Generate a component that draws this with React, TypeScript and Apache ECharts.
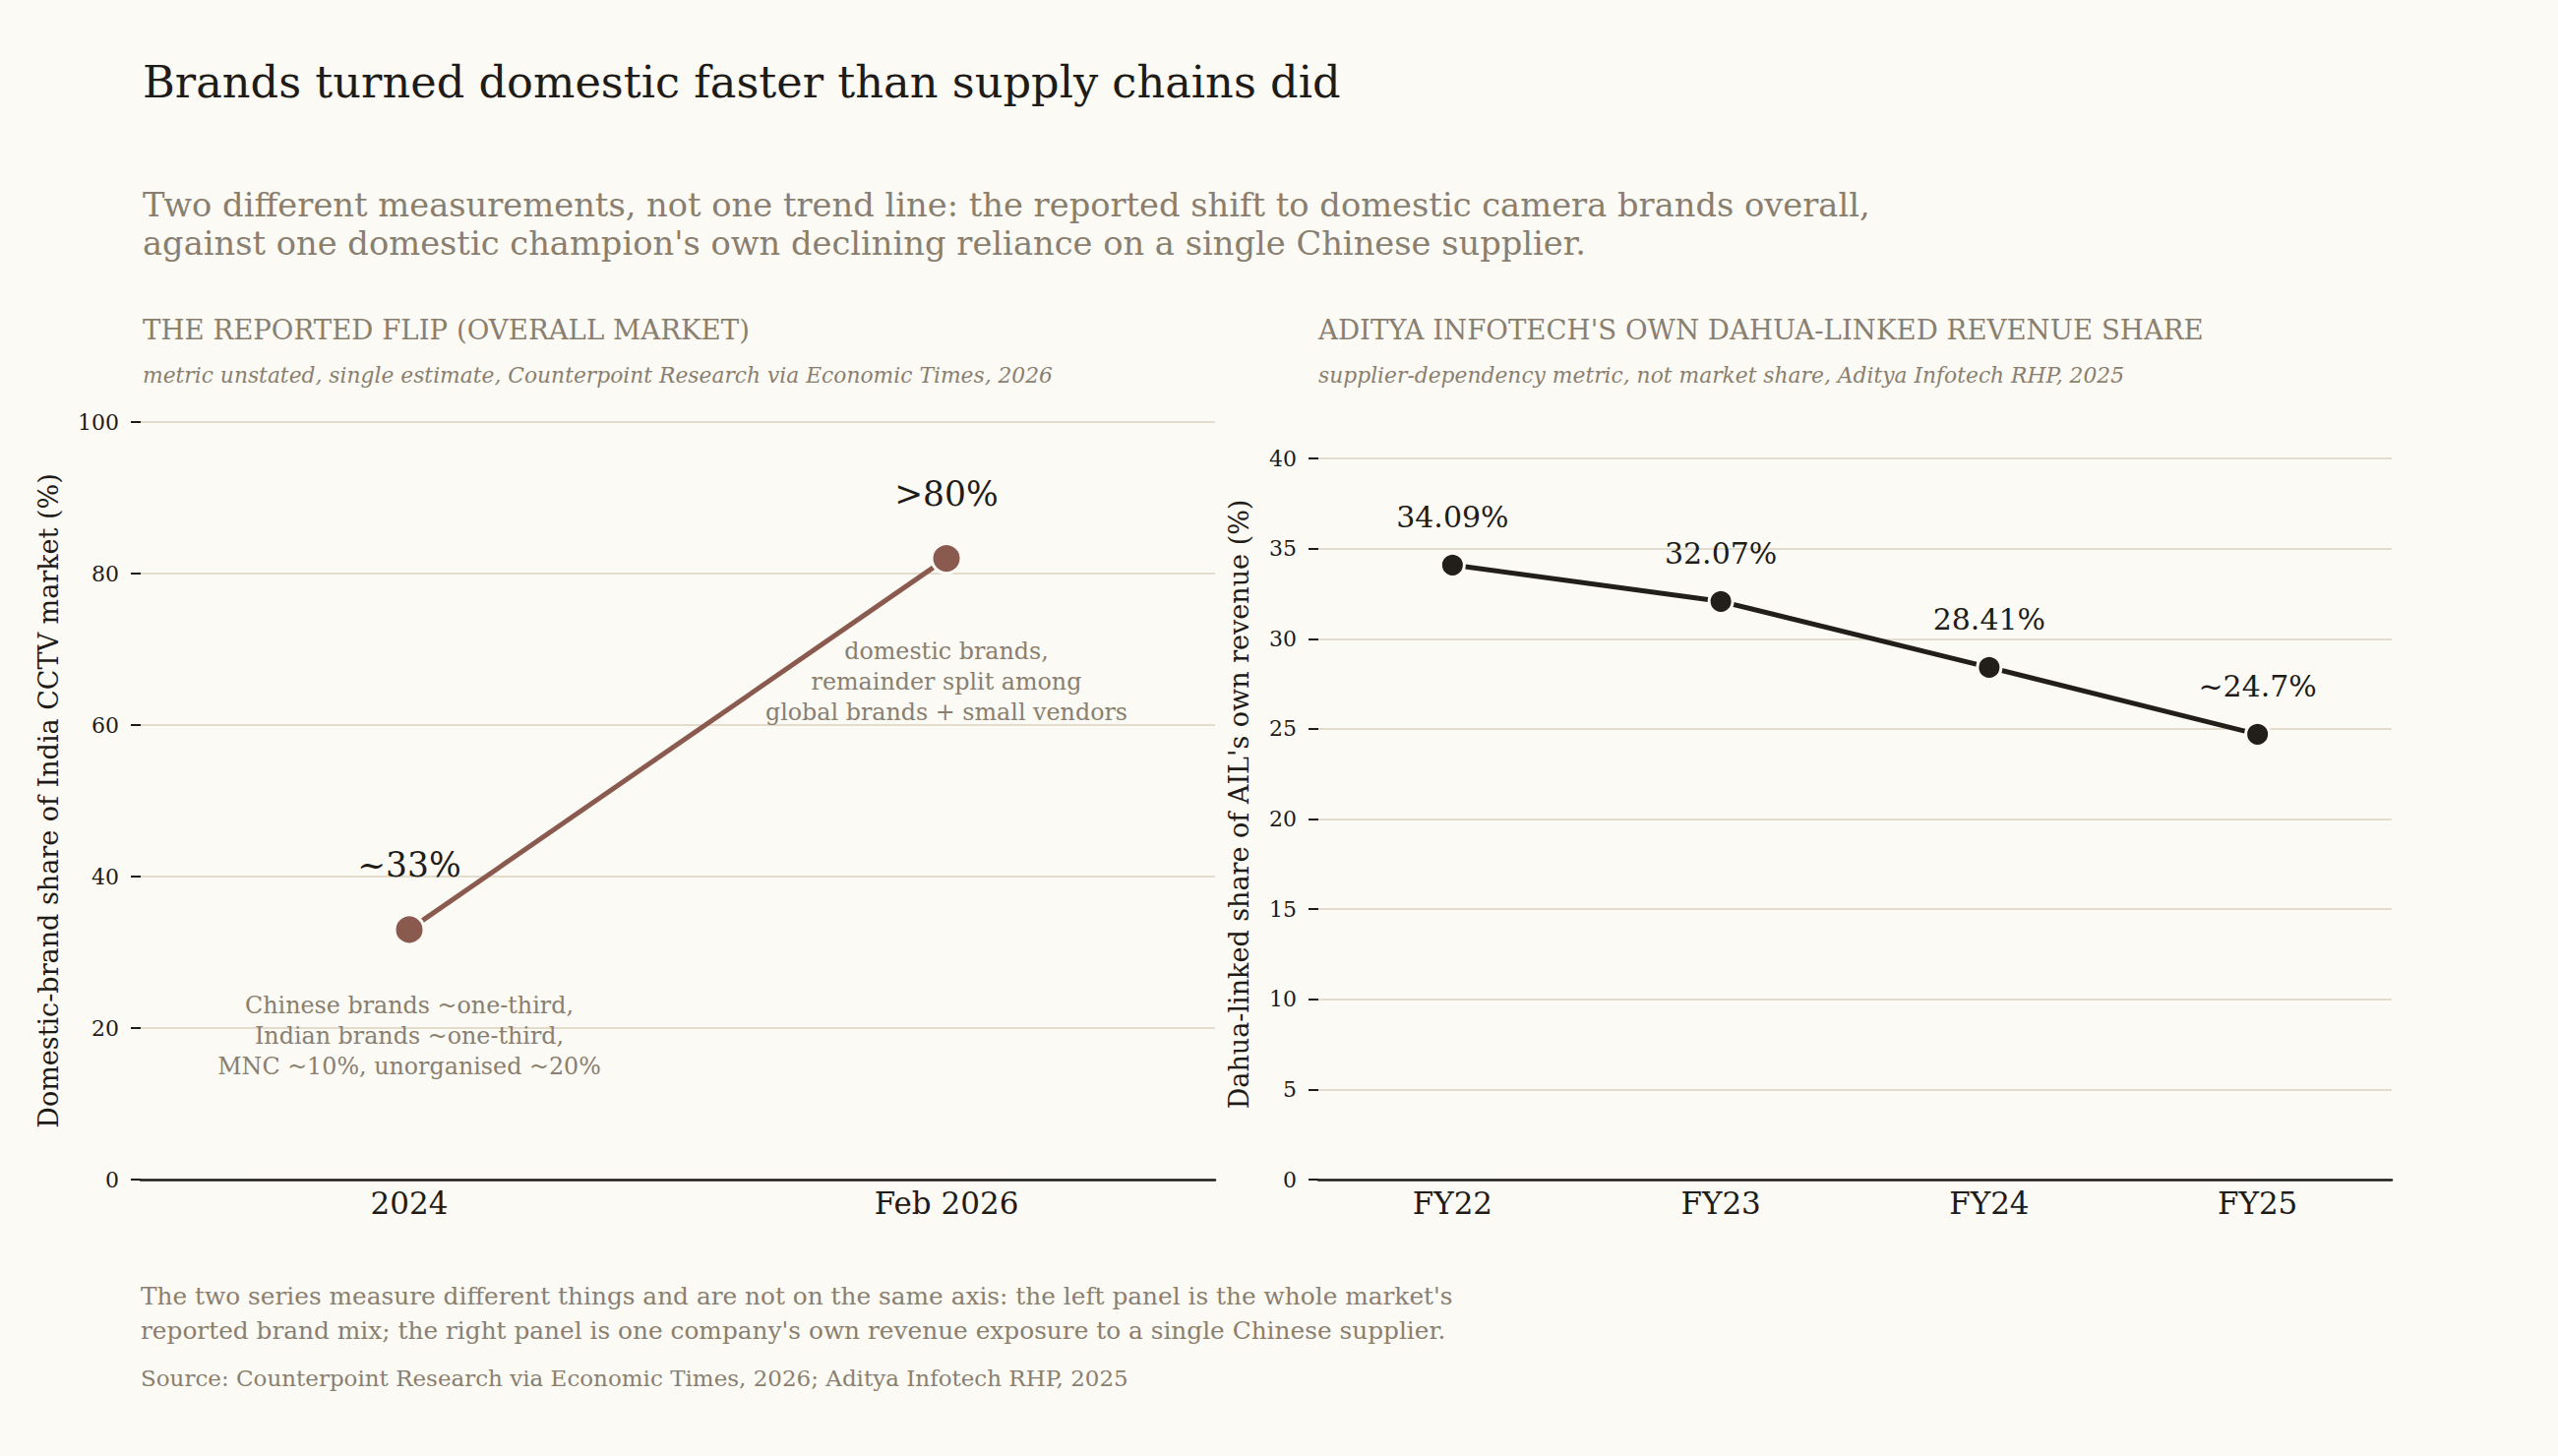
import React, { useEffect, useRef } from "react";
import * as echarts from "echarts";

const leftCategories = ["2024", "Feb 2026"];
const leftValues = [33, 82];
const leftLabels = ["~33%", ">80%"];
const leftNotes = [
  { category: "2024", value: 19, text: "Chinese brands ~one-third,\nIndian brands ~one-third,\nMNC ~10%, unorganised ~20%" },
  { category: "Feb 2026", value: 65.7, text: "domestic brands,\nremainder split among\nglobal brands + small vendors" },
];

const rightCategories = ["FY22", "FY23", "FY24", "FY25"];
const rightValues = [34.09, 32.07, 28.41, 24.7];
const rightLabels = ["34.09%", "32.07%", "28.41%", "~24.7%"];

const titleText = "Brands turned domestic faster than supply chains did";
const subtitleLines = [
  "Two different measurements, not one trend line: the reported shift to domestic camera brands overall,",
  "against one domestic champion's own declining reliance on a single Chinese supplier.",
];
const leftHeader = "THE REPORTED FLIP (OVERALL MARKET)";
const leftSub = "metric unstated, single estimate, Counterpoint Research via Economic Times, 2026";
const rightHeader = "ADITYA INFOTECH'S OWN DAHUA-LINKED REVENUE SHARE";
const rightSub = "supplier-dependency metric, not market share, Aditya Infotech RHP, 2025";
const footerLines = [
  "The two series measure different things and are not on the same axis: the left panel is the whole market's",
  "reported brand mix; the right panel is one company's own revenue exposure to a single Chinese supplier.",
];
const sourceText = "Source: Counterpoint Research via Economic Times, 2026; Aditya Infotech RHP, 2025";

const BG = "#FBFAF5";
const INK = "#1F1C18";
const MUTED = "#8A7F6F";
const GRID = "#E3DBCC";
const BROWN = "#8B5A4F";
const SERIF = "'DejaVu Serif', serif";

function txt(x: number, baseline: number, text: string, size: number, color: string, extra: any = {}) {
  return {
    type: "text",
    x,
    y: baseline + size * 0.22,
    silent: true,
    style: {
      text,
      fontFamily: SERIF,
      fontSize: size,
      fill: color,
      textAlign: "left",
      textVerticalAlign: "bottom",
      ...extra,
    },
  };
}

export default function App() {
  const ref = useRef<HTMLDivElement>(null);
  useEffect(() => {
    document.body.style.margin = "0";
    document.body.style.background = BG;
    const chart = echarts.init(ref.current!, undefined, { renderer: "svg" });

    const yAxisCommon = {
      type: "value",
      axisLine: { show: false },
      axisTick: { show: true, length: 10, lineStyle: { color: INK, width: 2 } },
      axisLabel: { color: INK, fontFamily: SERIF, fontSize: 22, margin: 22 },
      splitLine: { show: true, lineStyle: { color: GRID, width: 2 } },
      nameLocation: "middle",
      nameTextStyle: { color: INK, fontFamily: SERIF, fontSize: 27 },
    };
    const xAxisCommon = {
      type: "category",
      boundaryGap: true,
      axisLine: { show: true, lineStyle: { color: INK, width: 2.5 } },
      axisTick: { show: false },
      axisLabel: { color: INK, fontFamily: SERIF, fontSize: 31, margin: 8 },
      splitLine: { show: false },
    };

    const option: any = {
      animation: false,
      backgroundColor: BG,
      grid: [
        { left: 143, right: 2600 - 1235, top: 429, bottom: 281 },
        { left: 1340, right: 2600 - 2431, top: 466, bottom: 281 },
      ],
      xAxis: [
        { ...xAxisCommon, gridIndex: 0, data: leftCategories },
        { ...xAxisCommon, gridIndex: 1, data: rightCategories },
      ],
      yAxis: [
        {
          ...yAxisCommon,
          gridIndex: 0,
          min: 0,
          max: 100,
          interval: 20,
          name: "Domestic-brand share of India CCTV market (%)",
          nameGap: 80,
        },
        {
          ...yAxisCommon,
          gridIndex: 1,
          min: 0,
          max: 40,
          interval: 5,
          name: "Dahua-linked share of AIL's own revenue (%)",
          nameGap: 67,
          nameTextStyle: { ...yAxisCommon.nameTextStyle, padding: [0, 0, 0, 30] },
        },
      ],
      series: [
        {
          type: "line",
          xAxisIndex: 0,
          yAxisIndex: 0,
          data: leftValues,
          symbol: "circle",
          symbolSize: 30,
          lineStyle: { color: BROWN, width: 5 },
          itemStyle: { color: BROWN, borderColor: BG, borderWidth: 3 },
          label: {
            show: true,
            position: "top",
            distance: 32,
            color: INK,
            fontFamily: SERIF,
            fontSize: 34.5,
            formatter: (p: any) => leftLabels[p.dataIndex],
          },
          markPoint: {
            symbol: "circle",
            symbolSize: 1,
            itemStyle: { color: "rgba(0,0,0,0)" },
            label: {
              show: true,
              position: "inside",
              color: MUTED,
              fontFamily: SERIF,
              fontSize: 23.8,
              lineHeight: 31,
              align: "center",
              formatter: (p: any) => leftNotes[p.dataIndex].text,
            },
            data: leftNotes.map((n) => ({ coord: [n.category, n.value] })),
          },
          z: 3,
        },
        {
          type: "line",
          xAxisIndex: 1,
          yAxisIndex: 1,
          data: rightValues,
          symbol: "circle",
          symbolSize: 24,
          lineStyle: { color: "#221F1B", width: 5 },
          itemStyle: { color: "#221F1B", borderColor: BG, borderWidth: 3 },
          label: {
            show: true,
            position: "top",
            distance: 20,
            color: INK,
            fontFamily: SERIF,
            fontSize: 30,
            formatter: (p: any) => rightLabels[p.dataIndex],
          },
          z: 3,
        },
      ],
      graphic: [
        txt(145, 97, titleText, 44.7, INK),
        txt(145, 218, subtitleLines[0], 33.7, MUTED),
        txt(145, 257, subtitleLines[1], 33.7, MUTED),
        txt(145, 343, leftHeader, 27.6, MUTED),
        txt(145, 388, leftSub, 21.8, MUTED, { fontStyle: "italic" }),
        txt(1340, 343, rightHeader, 27.6, MUTED),
        txt(1340, 388, rightSub, 21.8, MUTED, { fontStyle: "italic" }),
        txt(143, 1325, footerLines[0], 24.8, MUTED),
        txt(143, 1360, footerLines[1], 24.8, MUTED),
        txt(143, 1407, sourceText, 23, MUTED),
      ],
    };
    chart.setOption(option);
    return () => chart.dispose();
  }, []);
  return <div ref={ref} style={{ width: 2600, height: 1480 }} />;
}
